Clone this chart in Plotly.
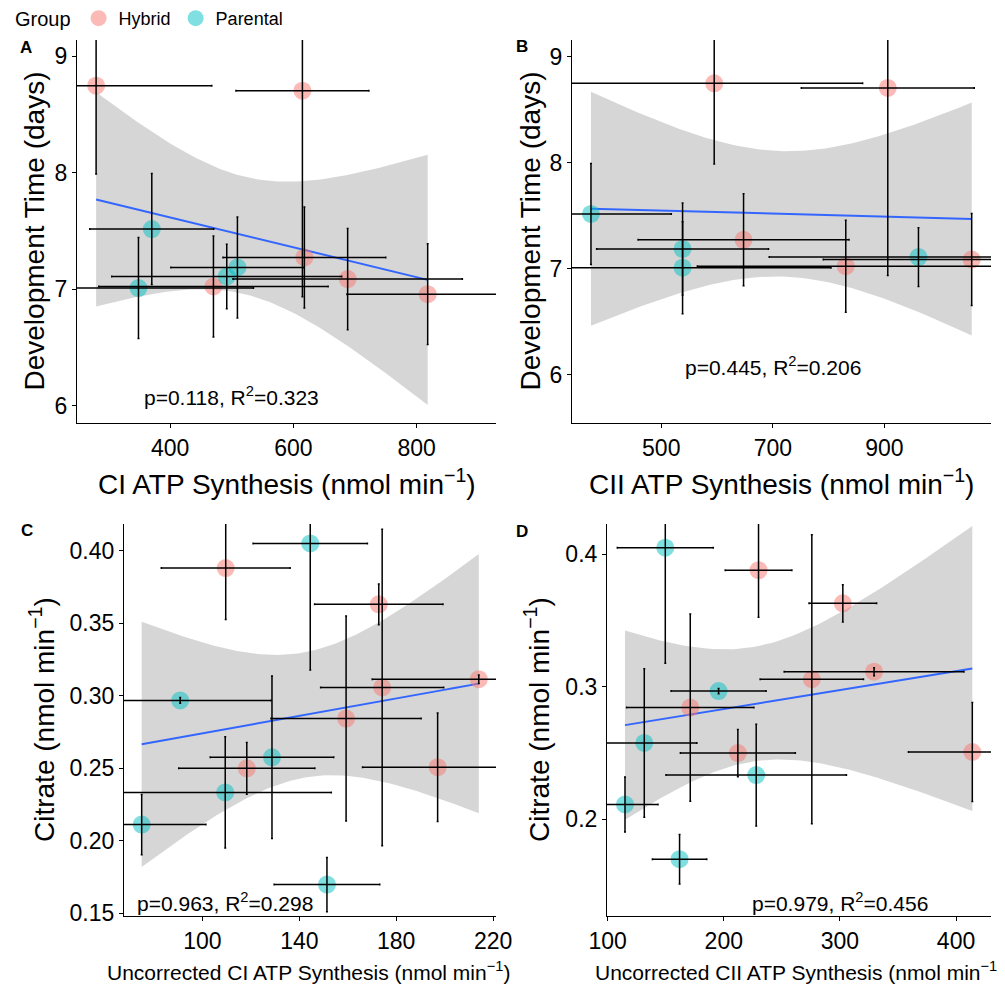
import numpy as np
import plotly.graph_objects as go

FONT = "Liberation Sans, Arial, sans-serif"
HYB = "rgba(248,118,109,0.5)"
PAR = "rgba(0,191,196,0.5)"

# ---------------- Development time data (panels A, B) ----------------
dev_group = ["Hybrid"] * 6 + ["Parental"] * 4
dev_time = [8.748, 8.705, 7.272, 7.023, 7.086, 6.957, 7.516, 7.009, 7.109, 7.186]
dev_time_err = [0.76, 1.77, 0.434, 0.434, 0.434, 0.433, 0.477, 0.434, 0.277, 0.434]
ci_atp = [280, 614.6, 617.8, 470.3, 688, 817.8, 370.3, 348.7, 491.9, 509.2]
ci_atp_err = [187.6, 107.8, 132, 186, 186, 131, 100.5, 186.5, 186.5, 108]
cii_atp = [594.9, 906, 647.5, 830.7, 1056.4, None, 374, 538.2, 961, 538.2]
cii_atp_err = [266, 155, 189, 266, 266, None, 144, 266, 267.5, 154]

# ---------------- Citrate data (panels C, D) ----------------
cit_group = ["Hybrid"] * 7 + ["Parental"] * 6
citrate = [0.388, 0.363, 0.3057, 0.3114, 0.2843, 0.25, 0.2508,
           0.405, 0.2968, 0.2576, 0.2334, 0.2112, 0.1699]
citrate_err = [0.0355, 0.014, 0.109, 0.003, 0.0707, 0.0178, 0.0374,
               0.0873, 0.002, 0.056, 0.0384, 0.0207, 0.0187]
unc_ci = [109.6, 172.8, 174.2, 214.1, 159.3, 118.3, 197.1,
          144.5, 90.8, 128.7, 109.4, 74.9, 151.4]
unc_ci_err = [26.6, 26.5, 25.4, 44, 31, 28.1, 31,
              23.6, 37.5, 25.5, 43.8, 26.5, 21.8]
unc_cii = [229.9, 302.5, 275.8, 329.4, 171.1, 212.1, 414.0,
           149.6, 195.5, 131.5, 227.9, 114.9, 161.9]
unc_cii_err = [28.7, 29.1, 44.5, 77.4, 54.8, 49.5, 55,
               41.3, 40.9, 45.3, 77.7, 28.4, 23.4]

stats_text = ["p=0.118, R<sup>2</sup>=0.323", "p=0.445, R<sup>2</sup>=0.206",
              "p=0.963, R<sup>2</sup>=0.298", "p=0.979, R<sup>2</sup>=0.456"]

T95 = {7: 2.364624, 8: 2.306004, 11: 2.200985}


def lm_fit(x, y):
    x = np.asarray(x, float)
    y = np.asarray(y, float)
    n = len(x)
    b, a = np.polyfit(x, y, 1)
    xg = np.linspace(x.min(), x.max(), 100)
    yh = a + b * xg
    res = y - (a + b * x)
    s = np.sqrt((res ** 2).sum() / (n - 2))
    sxx = ((x - x.mean()) ** 2).sum()
    se = s * np.sqrt(1.0 / n + (xg - x.mean()) ** 2 / sxx)
    t = T95[n - 2]
    return xg, yh, yh - t * se, yh + t * se


fig = go.Figure()


def add_panel(xs, xerr, ys, yerr, groups, xa, ya, legend=False):
    keep = [i for i in range(len(xs)) if xs[i] is not None]
    x = [xs[i] for i in keep]
    xe = [xerr[i] for i in keep]
    y = [ys[i] for i in keep]
    ye = [yerr[i] for i in keep]
    g = [groups[i] for i in keep]
    xg, yh, lo, hi = lm_fit(x, y)
    fig.add_trace(go.Scatter(x=xg, y=hi, mode="lines", line=dict(width=0),
                             showlegend=False, hoverinfo="skip", xaxis=xa, yaxis=ya))
    fig.add_trace(go.Scatter(x=xg, y=lo, mode="lines", line=dict(width=0),
                             fill="tonexty", fillcolor="rgba(153,153,153,0.4)",
                             showlegend=False, hoverinfo="skip", xaxis=xa, yaxis=ya))
    fig.add_trace(go.Scatter(x=xg, y=yh, mode="lines", line=dict(color="#3366FF", width=2),
                             showlegend=False, hoverinfo="skip", xaxis=xa, yaxis=ya))
    for name, col in [("Hybrid", HYB), ("Parental", PAR)]:
        idx = [i for i in range(len(x)) if g[i] == name]
        fig.add_trace(go.Scatter(
            x=[x[i] for i in idx], y=[y[i] for i in idx], mode="markers", name=name,
            marker=dict(size=18, color=col, line=dict(width=0)),
            showlegend=legend, legendgroup=name, xaxis=xa, yaxis=ya))
    fig.add_trace(go.Scatter(
        x=x, y=y, mode="markers", marker=dict(size=1, color="rgba(0,0,0,0)"),
        error_x=dict(type="data", array=xe, symmetric=True, color="black", thickness=1.5, width=1),
        error_y=dict(type="data", array=ye, symmetric=True, color="black", thickness=1.5, width=1),
        showlegend=False, hoverinfo="skip", xaxis=xa, yaxis=ya))


add_panel(ci_atp, ci_atp_err, dev_time, dev_time_err, dev_group, "x", "y", legend=True)
add_panel(cii_atp, cii_atp_err, dev_time, dev_time_err, dev_group, "x2", "y2")
add_panel(unc_ci, unc_ci_err, citrate, citrate_err, cit_group, "x3", "y3")
add_panel(unc_cii, unc_cii_err, citrate, citrate_err, cit_group, "x4", "y4")

# the page body has an 8px margin, so the figure is shrunk by that and
# positions (given in window pixels) are offset by it
OFF = 8
W, H = 1005 - OFF, 987 - OFF


def px(v):
    return (v - OFF) / W


def py(v):
    return 1 - (v - OFF) / H


axis_common = dict(showline=True, linecolor="black", linewidth=1.1, ticks="outside",
                   ticklen=4, tickwidth=1.1, tickcolor="black", showgrid=False,
                   zeroline=False, automargin=False,
                   tickfont=dict(family=FONT, size=23, color="black"))

panels = {
    # name: (x0, x1, ytop, ybottom) in window pixels
    "A": (77, 496, 40, 423),
    "B": (572, 991, 40, 423),
    "C": (124, 496, 524, 916),
    "D": (607, 991, 524, 916),
}

layout = dict(
    width=W, height=H, margin=dict(l=0, r=0, t=0, b=0, autoexpand=False),
    paper_bgcolor="white", plot_bgcolor="white",
    font=dict(family=FONT, color="black"),
)

xr = {"A": [249, 928.6], "B": [340, 1091], "C": [67.6, 221.2], "D": [99.4, 430.1]}
yr = {"A": [5.85, 9.14], "B": [5.544, 9.157], "C": [0.1482, 0.4184], "D": [0.127, 0.4229]}
xt = {"A": [400, 600, 800], "B": [500, 700, 900], "C": [100, 140, 180, 220],
      "D": [100, 200, 300, 400]}
yt = {"A": [6, 7, 8, 9], "B": [6, 7, 8, 9], "C": [0.15, 0.20, 0.25, 0.30, 0.35, 0.40],
      "D": [0.2, 0.3, 0.4]}
yfmt = {"A": "", "B": "", "C": ".2f", "D": ".1f"}

for k, key in enumerate(["A", "B", "C", "D"]):
    x0, x1, yt0, yb = panels[key]
    sfx = "" if k == 0 else str(k + 1)
    layout["xaxis" + sfx] = dict(axis_common, domain=[px(x0), px(x1)], range=xr[key],
                                 tickvals=xt[key], anchor="y" + sfx)
    layout["yaxis" + sfx] = dict(axis_common, domain=[py(yb), py(yt0)], range=yr[key],
                                 tickvals=yt[key], tickformat=yfmt[key], anchor="x" + sfx)

fig.update_layout(**layout)

ann = []
# panel letters
for lab, (x, y) in {"A": (26, 47), "B": (522, 46), "C": (27, 530), "D": (522, 531)}.items():
    ann.append(dict(text="<b>%s</b>" % lab, x=px(x), y=py(y), xref="paper", yref="paper",
                    showarrow=False, font=dict(family=FONT, size=17, color="black"),
                    xanchor="center", yanchor="middle"))

# axis titles
big = 28
small = 21
titles = [
    ("CI ATP Synthesis (nmol min<sup>\u22121</sup>)", 286.5, 482, 0, big),
    ("CII ATP Synthesis (nmol min<sup>\u22121</sup>)", 781, 482, 0, big),
    ("Uncorrected CI ATP Synthesis (nmol min<sup>\u22121</sup>)", 308, 971, 0, small),
    ("Uncorrected CII ATP Synthesis (nmol min<sup>\u22121</sup>)", 799, 971, 0, small),
    ("Development Time (days)", 34, 231.5, -90, big),
    ("Development Time (days)", 530, 231.5, -90, big),
    ("Citrate (nmol min<sup>\u22121</sup>)", 42, 720, -90, big),
    ("Citrate (nmol min<sup>\u22121</sup>)", 537, 720, -90, big),
]
for txt, x, y, ang, sz in titles:
    ann.append(dict(text=txt, x=px(x), y=py(y), xref="paper", yref="paper", showarrow=False,
                    textangle=ang, font=dict(family=FONT, size=sz, color="black"),
                    xanchor="center", yanchor="middle"))

# stats annotations in data coordinates
stat_pos = [("x", "y", 500, 6.08), ("x2", "y2", 700, 6.08), ("x3", "y3", 109.1, 0.158),
            ("x4", "y4", 300.2, 0.1379)]
for (xa, ya, x, y), txt in zip(stat_pos, stats_text):
    ann.append(dict(text=txt, x=x, y=y, xref=xa, yref=ya, showarrow=False,
                    font=dict(family=FONT, size=21, color="black"),
                    xanchor="center", yanchor="middle"))

fig.update_layout(
    annotations=ann,
    legend=dict(orientation="h", x=5 / W, y=1 + 8 / H, xanchor="left", yanchor="top",
                title=dict(text="Group", font=dict(family=FONT, size=20, color="black")),
                font=dict(family=FONT, size=18, color="black"),
                bgcolor="rgba(0,0,0,0)", itemsizing="trace"),
)

fig.write_html("out.html")
